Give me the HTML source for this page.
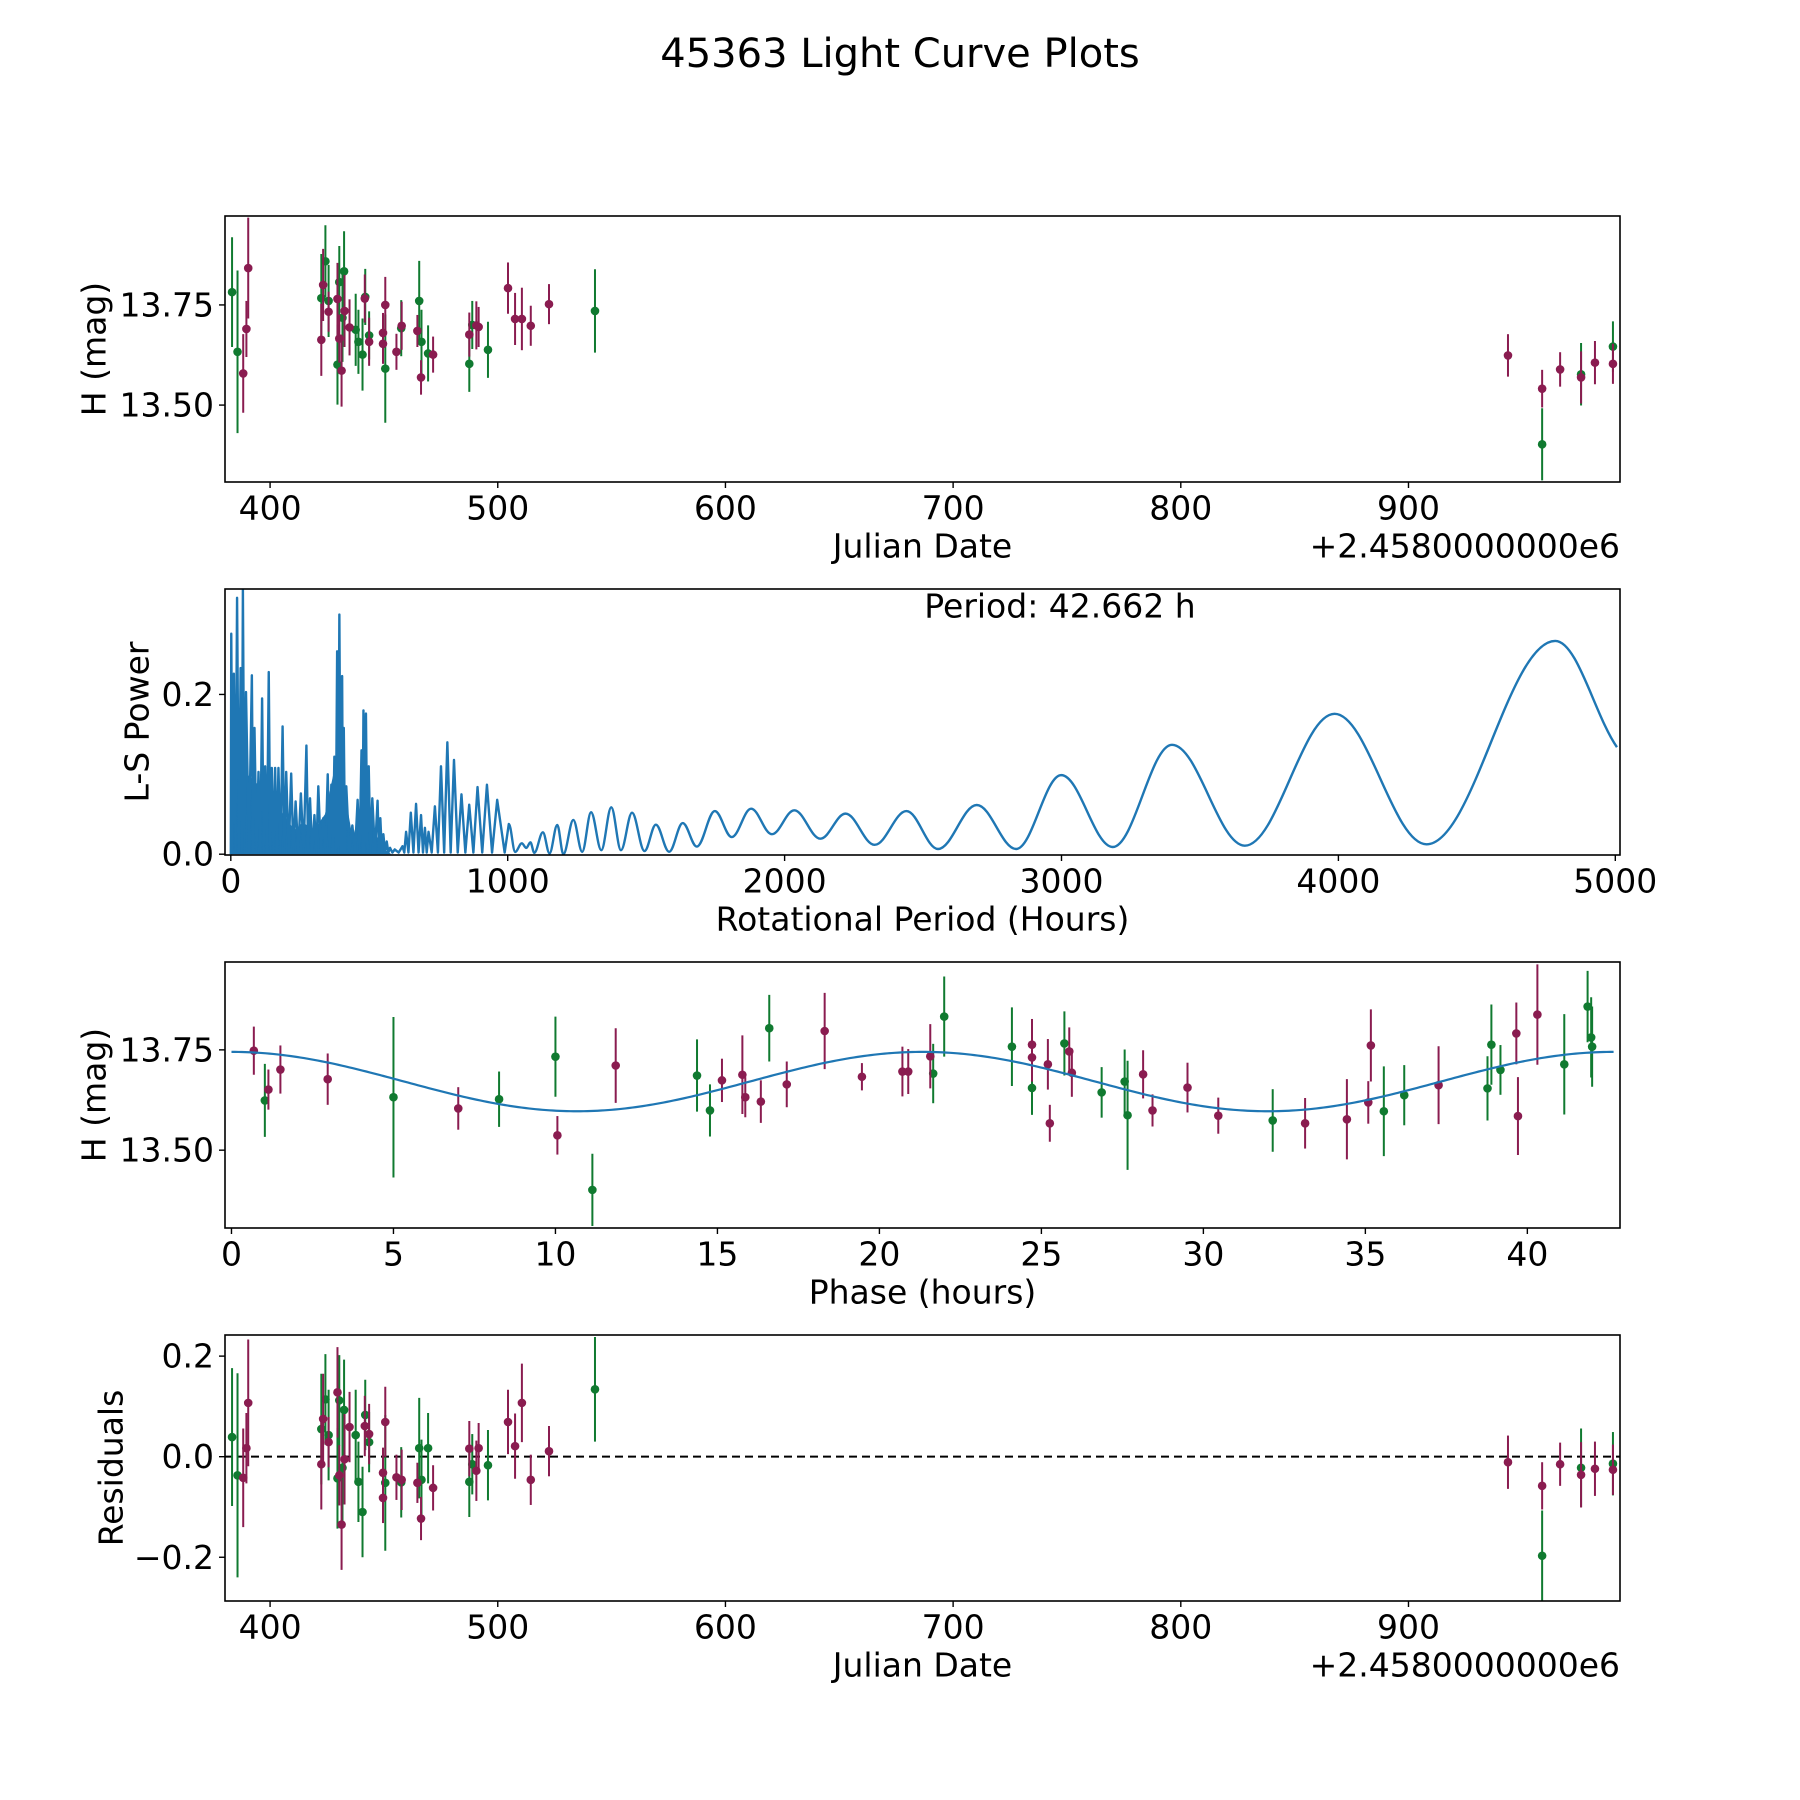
<!DOCTYPE html>
<html><head><meta charset="utf-8"><title>45363 Light Curve Plots</title>
<style>
html,body{margin:0;padding:0;background:#fff;}
svg{display:block;font-family:"DejaVu Sans","Liberation Sans",sans-serif;}
</style></head>
<body>
<svg id="fig" width="1800" height="1800" viewBox="0 0 1800 1800" xmlns="http://www.w3.org/2000/svg">
<rect width="1800" height="1800" fill="#fff"/>
<text x="900" y="54" font-size="40" text-anchor="middle" dominant-baseline="central">45363 Light Curve Plots</text>
</svg>
<script>
// ---- Data ----
const gDates = [383.3,385.7,422.5,424.3,425.7,429.6,430.4,431.8,432.5,437.6,438.8,440.6,441.8,443.5,450.6,457.6,465.5,466.5,469.4,487.5,488.8,495.7,542.7,958.7,975.8,989.8];
const gMags  = [13.782,13.633,13.767,13.859,13.760,13.601,13.807,13.718,13.834,13.688,13.658,13.626,13.77,13.674,13.591,13.692,13.760,13.658,13.629,13.603,13.700,13.638,13.735,13.402,13.577,13.646];
const gErrs  = [0.137,0.203,0.11,0.09,0.09,0.10,0.09,0.11,0.10,0.09,0.08,0.09,0.07,0.06,0.135,0.07,0.10,0.08,0.07,0.07,0.06,0.07,0.104,0.09,0.078,0.063];
const gResid = [0.039,-0.037,0.055,0.114,0.043,-0.043,0.112,-0.022,0.093,0.043,-0.05,-0.11,0.083,0.029,-0.052,-0.051,0.017,-0.046,0.017,-0.05,-0.015,-0.017,0.134,-0.197,-0.022,-0.014];

const pDates = [388.2,389.6,390.4,422.5,423.3,425.7,429.6,430.4,431.4,432.7,434.9,441.6,443.5,449.6,449.6,450.6,455.5,457.8,464.7,466.3,471.6,487.5,490.6,491.6,504.5,507.6,510.6,514.5,522.5,943.7,958.7,966.6,975.8,981.9,989.8];
const pMags  = [13.579,13.690,13.842,13.663,13.800,13.733,13.765,13.666,13.586,13.735,13.694,13.766,13.658,13.680,13.653,13.750,13.633,13.698,13.685,13.569,13.626,13.676,13.699,13.695,13.792,13.715,13.715,13.698,13.752,13.624,13.541,13.589,13.569,13.606,13.603];
const pErrs  = [0.098,0.07,0.126,0.09,0.09,0.05,0.09,0.06,0.09,0.09,0.07,0.06,0.06,0.05,0.05,0.07,0.045,0.06,0.04,0.043,0.045,0.055,0.06,0.05,0.064,0.065,0.078,0.05,0.05,0.053,0.047,0.043,0.065,0.054,0.05];
const pResid = [-0.042,0.017,0.107,-0.015,0.075,0.029,0.128,-0.037,-0.135,-0.005,0.059,0.061,0.045,-0.032,-0.082,0.069,-0.041,-0.046,-0.052,-0.123,-0.062,0.016,-0.028,0.017,0.069,0.021,0.107,-0.046,0.011,-0.011,-0.058,-0.015,-0.036,-0.024,-0.026];

const gPhase = [1.03,5.0,8.26,10.0,11.14,14.37,14.77,16.6,21.66,22.0,24.09,24.71,25.71,26.86,27.57,27.66,32.14,35.57,36.2,38.77,38.89,39.17,41.14,41.86,41.97,42.0];
const gPhaseMag = [13.624,13.632,13.627,13.733,13.401,13.686,13.599,13.804,13.691,13.833,13.758,13.655,13.766,13.644,13.671,13.587,13.574,13.597,13.637,13.654,13.763,13.70,13.714,13.858,13.781,13.758];
const gPhaseErr = [0.091,0.2,0.069,0.1,0.09,0.09,0.065,0.083,0.074,0.1,0.098,0.067,0.08,0.063,0.08,0.136,0.078,0.112,0.075,0.08,0.1,0.062,0.125,0.089,0.1,0.1];
const pPhase = [0.69,1.14,1.51,2.97,7.0,10.06,11.86,15.14,15.77,15.86,16.34,17.14,18.31,19.46,20.71,20.89,21.57,24.71,24.71,25.2,25.26,25.86,25.94,28.14,28.43,29.51,30.46,33.14,34.43,35.09,35.17,37.26,39.66,39.71,40.31];
const pPhaseMag = [13.748,13.651,13.701,13.677,13.604,13.537,13.711,13.674,13.688,13.632,13.621,13.664,13.797,13.683,13.696,13.696,13.734,13.763,13.731,13.714,13.567,13.746,13.693,13.689,13.599,13.656,13.586,13.567,13.577,13.619,13.761,13.662,13.791,13.585,13.838];
const pPhaseErr = [0.06,0.05,0.06,0.064,0.053,0.048,0.093,0.054,0.098,0.05,0.053,0.057,0.095,0.034,0.062,0.056,0.08,0.064,0.06,0.063,0.046,0.06,0.06,0.06,0.04,0.062,0.045,0.063,0.1,0.053,0.09,0.097,0.077,0.097,0.125];

// Periodogram: short-period spikes (period h, power)
const spikePeriods = [1.6,11,22.6,35.5,43.6,54.8,76,85.5,100,113,124,137,148,160,172,187,200,218,234,253,273,286,302,316,334,350,363,374,384,392,402,408,417,439,458,472,479,488,498,511,530,540,551,563,575,592,620,633,650,669,687,701,714,737,759,782,806,833,861,891,925,962];
const spikePowers = [0.276,0.226,0.321,0.233,0.331,0.203,0.224,0.158,0.103,0.195,0.110,0.228,0.108,0.108,0.108,0.16,0.103,0.101,0.066,0.076,0.136,0.07,0.049,0.085,0.045,0.1,0.087,0.122,0.254,0.3,0.223,0.158,0.085,0.036,0.068,0.13,0.18,0.176,0.11,0.07,0.067,0.045,0.025,0.016,0.008,0.006,0.01,0.028,0.052,0.063,0.049,0.033,0.028,0.06,0.11,0.14,0.118,0.075,0.062,0.084,0.087,0.068];
// dense-region floor envelope
const floorPeriods = [0,60,150,230,260,300,340,370,420,440,470,500,530,560,580];
const floorPowers = [0.12,0.1,0.07,0.03,0.04,0.03,0.05,0.1,0.06,0.02,0.06,0.05,0.02,0.005,0];
// Periodogram: long-period extrema (period h, power)
const extPeriods = [1004,1027,1051,1067,1082,1096,1127,1151,1179,1201,1237,1269,1301,1338,1374,1409,1449,1494,1535,1583,1632,1683,1748,1809,1879,1954,2035,2129,2220,2325,2440,2554,2694,2836,2999,3185,3399,3662,3986,4318,4783,5006];
const extPowers = [0.0379,0.0029,0.0136,0.0078,0.0149,0.0017,0.0274,0.001,0.0366,0.0,0.0429,0.0029,0.0525,0.005,0.0587,0.005,0.052,0.004,0.037,0.003,0.039,0.0095,0.054,0.0215,0.057,0.025,0.055,0.0194,0.0508,0.0117,0.054,0.0065,0.0616,0.0065,0.099,0.009,0.137,0.0107,0.1757,0.0124,0.267,0.134];

const period = 42.662;
const modelMean = 13.671;
const modelAmp = 0.074;

const p1Ticks = [400,500,600,700,800,900];
const magTicks = [13.50,13.75];
const p2XTicks = [0,1000,2000,3000,4000,5000];
const p2YTicks = [0.0,0.2];
const p3XTicks = [0,5,10,15,20,25,30,35,40];
const residTicks = [-0.2,0.0,0.2];

// ---- Layout ----
const NS = "http://www.w3.org/2000/svg";
const svg = document.getElementById('fig');
const GREEN = "#107a30", PURPLE = "#8a1c50", BLUE = "#1f77b4";
const X0 = 225, X1 = 1620;
const FS = 33;
function mk(tag, attrs, parent){
  const e = document.createElementNS(NS, tag);
  for (const k in attrs) e.setAttribute(k, attrs[k]);
  (parent||svg).appendChild(e);
  return e;
}
function panel(name, y0, y1, xmin, xmax, ymin, ymax){
  const g = mk('g', {});
  
  
  const sx = v => X0 + (v - xmin) / (xmax - xmin) * (X1 - X0);
  const sy = v => y1 - (v - ymin) / (ymax - ymin) * (y1 - y0);
  const cid = name + '-clip';
  const cp = mk('clipPath', {id: cid}, g);
  mk('rect', {x: X0, y: y0, width: X1 - X0, height: y1 - y0}, cp);
  const plot = mk('g', {'clip-path': 'url(#' + cid + ')'}, g);
  return {g, plot, sx, sy, y0, y1};
}
function frame(P){
  const r = mk('rect', {x: X0, y: P.y0, width: X1 - X0, height: P.y1 - P.y0, fill: 'none', stroke: '#000', 'stroke-width': 1.6}, P.g);
  
  
}
function xticks(P, ticks, fmt){
  ticks.forEach(t => {
    const x = P.sx(t);
    mk('line', {x1: x, x2: x, y1: P.y1, y2: P.y1 + 6, stroke: '#000', 'stroke-width': 1.4}, P.g);
    const tx = mk('text', {x: x, y: P.y1 + 26, 'font-size': FS, 'text-anchor': 'middle', 'dominant-baseline': 'central'}, P.g);
    
    
    tx.textContent = fmt(t);
  });
}
function yticks(P, ticks, fmt){
  ticks.forEach(t => {
    const y = P.sy(t);
    mk('line', {x1: X0 - 6, x2: X0, y1: y, y2: y, stroke: '#000', 'stroke-width': 1.4}, P.g);
    const tx = mk('text', {x: X0 - 11, y: y, 'font-size': FS, 'text-anchor': 'end', 'dominant-baseline': 'central'}, P.g);
    
    
    tx.textContent = fmt(t);
  });
}
function xlabel(P, txt, nm){
  const t = mk('text', {x: (X0 + X1) / 2, y: P.y1 + 64, 'font-size': FS, 'text-anchor': 'middle', 'dominant-baseline': 'central'}, P.g);
  
  
  t.textContent = txt;
}
function ylabel(P, txt, x, nm){
  const cy = (P.y0 + P.y1) / 2;
  const t = mk('text', {x: x, y: cy, 'font-size': FS, 'text-anchor': 'middle', 'dominant-baseline': 'central', transform: 'rotate(-90 ' + x + ' ' + cy + ')'}, P.g);
  
  
  t.textContent = txt;
}
function offsetText(P){
  const t = mk('text', {x: X1, y: P.y1 + 64, 'font-size': FS, 'text-anchor': 'end', 'dominant-baseline': 'central'}, P.g);
  
  
  t.textContent = '+2.4580000000e6';
}
function errpoints(P, xs, ys, es, color, nm){
  xs.forEach((xv, i) => {
    const x = P.sx(xv);
    const l = mk('line', {x1: x, x2: x, y1: P.sy(ys[i] - es[i]), y2: P.sy(ys[i] + es[i]), stroke: color, 'stroke-width': 2}, P.plot);
    
    
    const c = mk('circle', {cx: x, cy: P.sy(ys[i]), r: 4.3, fill: color}, P.plot);
    
    
  });
}
const minus = s => s.replace('-', '\u2212');

// ---- Panel 1: light curve ----
const P1 = panel('light-curve-panel', 216, 482, 380.2, 992.9, 13.308, 13.972);
errpoints(P1, gDates, gMags, gErrs, GREEN, 'green-filter');
errpoints(P1, pDates, pMags, pErrs, PURPLE, 'purple-filter');
frame(P1);
xticks(P1, p1Ticks, t => String(t));
yticks(P1, magTicks, t => t.toFixed(2));
xlabel(P1, 'Julian Date', 'x-axis-title-julian-date');
ylabel(P1, 'H (mag)', 94, 'y-axis-title-mag');
offsetText(P1);

// ---- Panel 2: Lomb-Scargle periodogram ----
const P2 = panel('periodogram-panel', 589, 855, -21, 5017, -0.001, 0.332);
(function(){
  const fp = [P2.sx(floorPeriods[0]).toFixed(2) + ',' + P2.sy(0).toFixed(2)];
  floorPeriods.forEach((p, i) => fp.push(P2.sx(p).toFixed(2) + ',' + P2.sy(floorPowers[i]).toFixed(2)));
  fp.push(P2.sx(floorPeriods[floorPeriods.length - 1]).toFixed(2) + ',' + P2.sy(0).toFixed(2));
  const fl = mk('polygon', {points: fp.join(' '), fill: BLUE}, P2.plot);
  
  
  let d = 'M' + P2.sx(0).toFixed(2) + ',' + P2.sy(0).toFixed(2);
  spikePeriods.forEach((p, i) => {
    d += ' L' + P2.sx(p).toFixed(2) + ',' + P2.sy(spikePowers[i]).toFixed(2);
    const nx = i + 1 < spikePeriods.length ? (p + spikePeriods[i + 1]) / 2 : extPeriods[0] - 15;
    d += ' L' + P2.sx(nx).toFixed(2) + ',' + P2.sy(0.002).toFixed(2);
  });
  d += ' L' + P2.sx(extPeriods[0]).toFixed(2) + ',' + P2.sy(extPowers[0]).toFixed(2);
  for (let i = 1; i < extPeriods.length; i++) {
    const xa = P2.sx(extPeriods[i - 1]), xb = P2.sx(extPeriods[i]);
    const ya = P2.sy(extPowers[i - 1]), yb = P2.sy(extPowers[i]);
    const last = i === extPeriods.length - 1;
    const c1x = xa + (xb - xa) * 0.36, c2x = xb - (xb - xa) * 0.36;
    const c2y = last ? yb - (yb - ya) * 0.3 : yb;
    d += ' C' + c1x.toFixed(2) + ',' + ya.toFixed(2) + ' ' + c2x.toFixed(2) + ',' + c2y.toFixed(2) + ' ' + xb.toFixed(2) + ',' + yb.toFixed(2);
  }
  const pl = mk('path', {d: d, fill: 'none', stroke: BLUE, 'stroke-width': 2.4, 'stroke-linejoin': 'round'}, P2.plot);
  
  
})();
frame(P2);
xticks(P2, p2XTicks, t => String(t));
yticks(P2, p2YTicks, t => t.toFixed(1));
xlabel(P2, 'Rotational Period (Hours)', 'x-axis-title-period');
ylabel(P2, 'L-S Power', 137, 'y-axis-title-ls-power');
(function(){
  const t = mk('text', {x: 1060, y: 606, 'font-size': FS, 'text-anchor': 'middle', 'dominant-baseline': 'central'}, P2.g);
  
  
  t.textContent = 'Period: ' + period.toFixed(3) + ' h';
})();

// ---- Panel 3: phased light curve ----
const P3 = panel('phase-panel', 962, 1228, -0.2, 42.86, 13.306, 13.969);
errpoints(P3, gPhase, gPhaseMag, gPhaseErr, GREEN, 'green-phase');
errpoints(P3, pPhase, pPhaseMag, pPhaseErr, PURPLE, 'purple-phase');
(function(){
  const pts = [];
  for (let i = 0; i <= 400; i++) {
    const ph = period * i / 400;
    const m = modelMean + modelAmp * Math.cos(4 * Math.PI * ph / period);
    pts.push(P3.sx(ph).toFixed(2) + ',' + P3.sy(m).toFixed(2));
  }
  const pl = mk('polyline', {points: pts.join(' '), fill: 'none', stroke: BLUE, 'stroke-width': 2.2}, P3.plot);
  
  
})();
frame(P3);
xticks(P3, p3XTicks, t => String(t));
yticks(P3, magTicks, t => t.toFixed(2));
xlabel(P3, 'Phase (hours)', 'x-axis-title-phase');
ylabel(P3, 'H (mag)', 94, 'y-axis-title-phase-mag');

// ---- Panel 4: residuals ----
const P4 = panel('residuals-panel', 1335, 1601, 380.2, 992.9, -0.287, 0.242);
(function(){
  const l = mk('line', {x1: X0, x2: X1, y1: P4.sy(0), y2: P4.sy(0), stroke: '#000', 'stroke-width': 2, 'stroke-dasharray': '8,5'}, P4.plot);
  
  
})();
errpoints(P4, gDates, gResid, gErrs, GREEN, 'green-residual');
errpoints(P4, pDates, pResid, pErrs, PURPLE, 'purple-residual');
frame(P4);
xticks(P4, p1Ticks, t => String(t));
yticks(P4, residTicks, t => minus(t.toFixed(1)));
xlabel(P4, 'Julian Date', 'x-axis-title-residual-date');
ylabel(P4, 'Residuals', 111, 'y-axis-title-residuals');
offsetText(P4);
</script>
</body></html>
